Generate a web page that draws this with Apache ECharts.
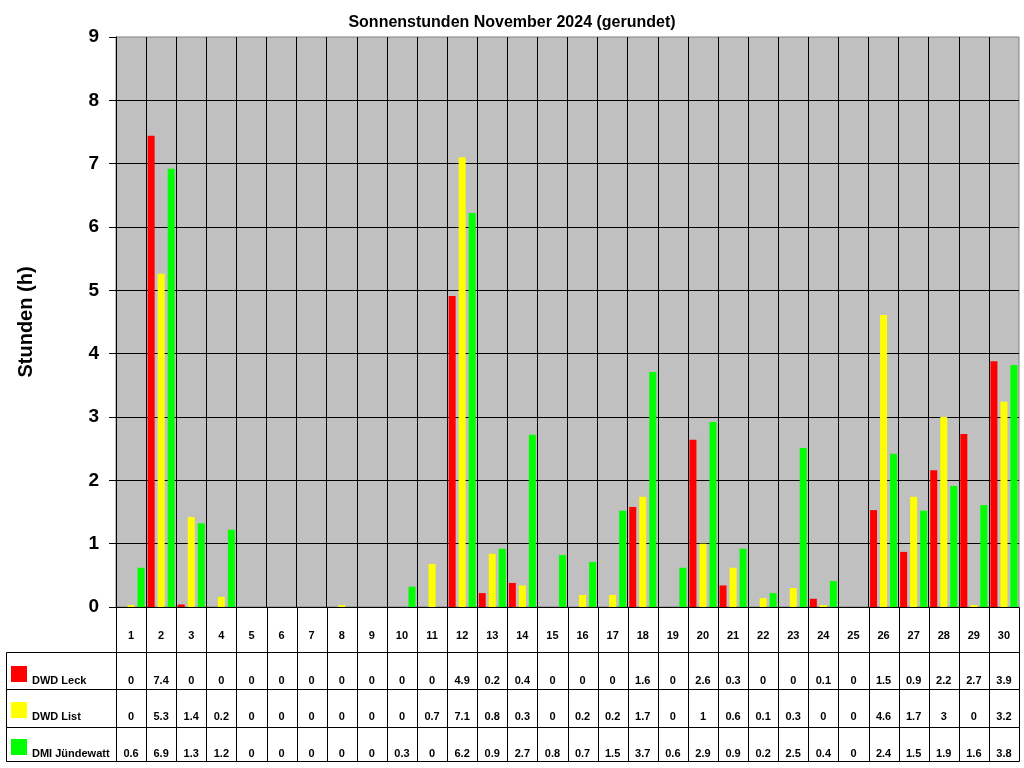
<!DOCTYPE html>
<html>
<head>
<meta charset="utf-8">
<script src="https://cdn.jsdelivr.net/npm/echarts@6/dist/echarts.min.js"></script>
<style>
html,body{margin:0;padding:0;background:#fff;}
#chart{width:1024px;height:768px;}
</style>
</head>
<body>
<div id="chart"></div>
<script>
// ---- data ----
const days = ['1','2','3','4','5','6','7','8','9','10','11','12','13','14','15','16','17','18','19','20','21','22','23','24','25','26','27','28','29','30'];
const seriesNames = ['DWD Leck', 'DWD List', 'DMI Jündewatt'];
const leckHours = [0, 7.44, 0.04, 0, 0, 0, 0, 0, 0, 0, 0, 4.91, 0.22, 0.38, 0, 0, 0, 1.58, 0, 2.64, 0.34, 0, 0, 0.13, 0, 1.53, 0.87, 2.16, 2.73, 3.88];
const listHours = [0.03, 5.26, 1.42, 0.16, 0, 0, 0, 0.03, 0, 0, 0.68, 7.1, 0.84, 0.34, 0, 0.19, 0.19, 1.74, 0, 1.0, 0.62, 0.14, 0.3, 0.03, 0, 4.61, 1.74, 3.0, 0.03, 3.24];
const dmiHours = [0.62, 6.92, 1.32, 1.22, 0, 0, 0, 0, 0, 0.32, 0, 6.22, 0.92, 2.72, 0.82, 0.71, 1.52, 3.71, 0.62, 2.92, 0.92, 0.22, 2.51, 0.41, 0, 2.42, 1.52, 1.91, 1.61, 3.82];
const leckTable = ['0','7.4','0','0','0','0','0','0','0','0','0','4.9','0.2','0.4','0','0','0','1.6','0','2.6','0.3','0','0','0.1','0','1.5','0.9','2.2','2.7','3.9'];
const listTable = ['0','5.3','1.4','0.2','0','0','0','0','0','0','0.7','7.1','0.8','0.3','0','0.2','0.2','1.7','0','1','0.6','0.1','0.3','0','0','4.6','1.7','3','0','3.2'];
const dmiTable = ['0.6','6.9','1.3','1.2','0','0','0','0','0','0.3','0','6.2','0.9','2.7','0.8','0.7','1.5','3.7','0.6','2.9','0.9','0.2','2.5','0.4','0','2.4','1.5','1.9','1.6','3.8'];
const yTicks = ['0','1','2','3','4','5','6','7','8','9'];

// ---- layout / style ----
const colors = ['#FF0000', '#FFFF00', '#00FF00'];
const FONT = '"Liberation Sans", Arial, sans-serif';
const ROW_EDGES = [0, 45, 82, 120, 154];   // table row edges (px offset from table top)
const TEXT_Y = [29, 74, 110, 147];         // text centre per row

const tableRows = [days, leckTable, listTable, dmiTable];
const tableData = [];
for (let r = 0; r < 4; r++) for (let i = 0; i < days.length; i++) tableData.push([i, r]);
const legendData = [[0, 1], [0, 2], [0, 3]];

function crisp(v) { return Math.round(v) + 0.5; }

const chart = echarts.init(document.getElementById('chart'));
chart.setOption({
  animation: false,
  backgroundColor: '#ffffff',
  title: {
    text: 'Sonnenstunden November 2024 (gerundet)',
    left: 'center', top: 10,
    textStyle: { fontFamily: FONT, fontWeight: 'bold', fontSize: 16, color: '#000' }
  },
  grid: [
    { left: 116, right: 5, top: 37, bottom: 161, show: true, backgroundColor: '#C0C0C0', borderColor: '#808080', borderWidth: 1 },
    { left: 116, right: 5, top: 607, bottom: 7 },
    { left: 6, width: 110, top: 607, bottom: 7 }
  ],
  xAxis: [
    { type: 'category', gridIndex: 0, data: days, boundaryGap: true,
      axisLine: { show: true, lineStyle: { color: '#000', width: 1 } },
      axisTick: { show: false }, axisLabel: { show: false },
      splitLine: { show: true, interval: 0, showMaxLine: false, lineStyle: { color: '#000', width: 1 } } },
    { type: 'category', gridIndex: 1, data: days, boundaryGap: true, show: false },
    { type: 'value', gridIndex: 2, min: 0, max: 1, show: false }
  ],
  yAxis: [
    { type: 'value', gridIndex: 0, min: 0, max: 9, interval: 1,
      name: 'Stunden (h)', nameLocation: 'middle', nameGap: 80, nameRotate: 90,
      nameTextStyle: { fontFamily: FONT, fontWeight: 'bold', fontSize: 20, color: '#000' },
      axisLine: { show: true, lineStyle: { color: '#000', width: 1 } },
      axisTick: { show: true, length: 7, lineStyle: { color: '#000' } },
      axisLabel: { margin: 17, fontFamily: FONT, fontWeight: 'bold', fontSize: 19, color: '#000',
        formatter: (v) => yTicks[Math.round(v)] },
      splitLine: { show: true, showMaxLine: false, showMinLine: false, lineStyle: { color: '#000', width: 1 } } },
    { type: 'value', gridIndex: 1, min: 0, max: 154, inverse: true, show: false },
    { type: 'value', gridIndex: 2, min: 0, max: 154, inverse: true, show: false }
  ],
  series: [
    { name: seriesNames[0], type: 'bar', xAxisIndex: 0, yAxisIndex: 0, data: leckHours, barWidth: 7, barGap: '43%', itemStyle: { color: colors[0] } },
    { name: seriesNames[1], type: 'bar', xAxisIndex: 0, yAxisIndex: 0, data: listHours, barWidth: 7, barGap: '43%', itemStyle: { color: colors[1] } },
    { name: seriesNames[2], type: 'bar', xAxisIndex: 0, yAxisIndex: 0, data: dmiHours, barWidth: 7, barGap: '43%', itemStyle: { color: colors[2] } },
    { type: 'custom', xAxisIndex: 1, yAxisIndex: 1, data: tableData, silent: true,
      renderItem: function (params, api) {
        const i = api.value(0), r = api.value(1);
        const bw = api.size([1, 0])[0];
        const top = api.coord([i, ROW_EDGES[r]]);
        const bot = api.coord([i, ROW_EDGES[r + 1]]);
        const ty = api.coord([i, TEXT_Y[r]])[1];
        const x0 = crisp(top[0] - bw / 2), x1 = crisp(top[0] + bw / 2);
        const y0 = crisp(top[1]), y1 = crisp(bot[1]);
        return { type: 'group', children: [
          { type: 'rect', shape: { x: x0, y: y0, width: x1 - x0, height: y1 - y0 },
            style: { fill: 'none', stroke: '#000', lineWidth: 1 } },
          { type: 'text', style: { x: top[0], y: ty, text: tableRows[r][i], fill: '#000',
            font: 'bold 11px ' + FONT, align: 'center', verticalAlign: 'middle' } }
        ] };
      } },
    { type: 'custom', xAxisIndex: 2, yAxisIndex: 2, data: legendData, silent: true,
      renderItem: function (params, api) {
        const r = api.value(1);
        const tl = api.coord([0, ROW_EDGES[r]]);
        const br = api.coord([1, ROW_EDGES[r + 1]]);
        const ty = api.coord([0, TEXT_Y[r]])[1];
        const x0 = crisp(tl[0]), x1 = crisp(br[0]), y0 = crisp(tl[1]), y1 = crisp(br[1]);
        return { type: 'group', children: [
          { type: 'rect', shape: { x: x0, y: y0, width: x1 - x0, height: y1 - y0 },
            style: { fill: 'none', stroke: '#000', lineWidth: 1 } },
          { type: 'rect', shape: { x: tl[0] + 5, y: ty - 15, width: 16, height: 16 },
            style: { fill: colors[r - 1] } },
          { type: 'text', style: { x: tl[0] + 26, y: ty, text: seriesNames[r - 1], fill: '#000',
            font: 'bold 11px ' + FONT, align: 'left', verticalAlign: 'middle' } }
        ] };
      } }
  ]
});
</script>
</body>
</html>
